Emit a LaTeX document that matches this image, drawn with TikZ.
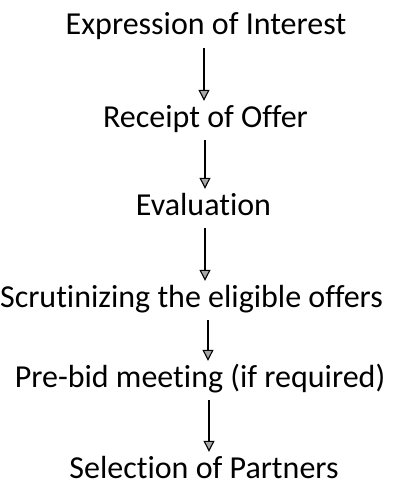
\documentclass[tikz,border=0pt]{standalone}
\usepackage{fontspec}
\setmainfont{Carlito}[Ligatures=NoCommon]
\usetikzlibrary{arrows.meta}

\tikzset{
  stage/.style={anchor=base, inner sep=5pt, text height=21pt, text depth=8pt,
    font=\fontsize{32}{38}\selectfont},
  flow/.style={line width=1.1pt, -{Triangle[length=11pt,width=11pt,fill=gray!70]}}
}

\begin{document}
\begin{tikzpicture}[x=1pt,y=1pt]
  \useasboundingbox (0,0) rectangle (398,-487);

  % stages, top to bottom
  \node[stage] (interest) at (206,-35) {Expression of Interest};
  \node[stage] (receipt) at (205.5,-127) {Receipt of Offer};
  \node[stage] (evaluation) at (203.5,-215) {Evaluation};
  \node[stage] (scrutiny) at (191.5,-307) {Scrutinizing the eligible offers};
  \node[stage] (prebid) at (200,-387) {Pre-bid meeting (if required)};
  \node[stage] (selection) at (204,-478) {Selection of Partners};

  % arrows between stages
  \draw[flow] ([xshift=-2pt]interest.south) -- ([xshift=-1.5pt]receipt.north);
  \draw[flow] ([xshift=-0.5pt]receipt.south) -- ([xshift=1.5pt]evaluation.north);
  \draw[flow] ([xshift=1.5pt]evaluation.south) -- ([xshift=13.5pt]scrutiny.north);
  \draw[flow] ([xshift=16.5pt]scrutiny.south) -- ([xshift=8pt]prebid.north);
  \draw[flow] ([xshift=9pt]prebid.south) -- ([xshift=5pt]selection.north);
\end{tikzpicture}
\end{document}
